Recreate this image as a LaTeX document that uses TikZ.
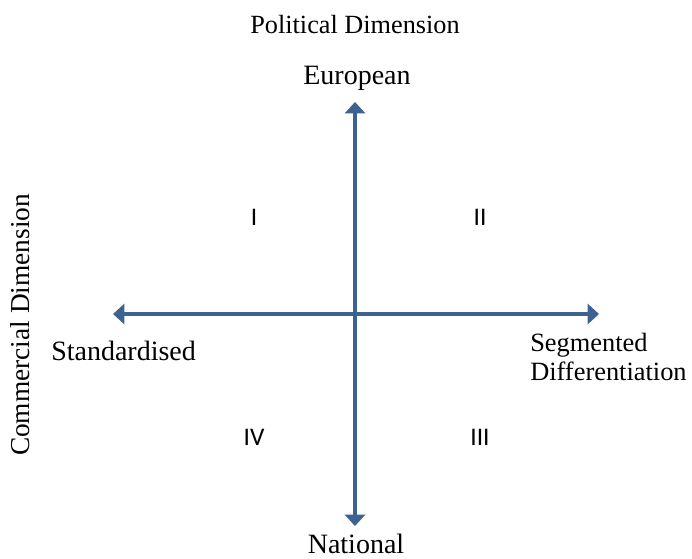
\documentclass[tikz,border=0pt]{standalone}
\usepackage{fontspec}
\setmainfont{Liberation Serif}
\newfontfamily\carl{Carlito}
\usetikzlibrary{arrows.meta}
\definecolor{axisblue}{RGB}{60,98,145}
\tikzset{
  axis/.style={draw=axisblue, line width=3.6pt, -{Triangle[width=15pt,length=8.5pt]}, shorten >=0pt},
  lbl/.style={inner sep=0pt, font=\fontsize{21}{25}\selectfont},
  seglbl/.style={inner sep=0pt, font=\fontsize{19.8}{24}\selectfont},
  ttl/.style={inner sep=0pt, font=\fontsize{19.7}{23}\selectfont},
  quad/.style={inner sep=0pt, font=\carl\fontsize{19}{22}\selectfont},
}
\begin{document}
\begin{tikzpicture}[x=0.75pt,y=-0.75pt]
\useasboundingbox (0,0) rectangle (692,558);
\coordinate (c) at (355,314);
\coordinate (top) at (355,102);
\coordinate (bot) at (355,526);
\coordinate (left) at (113,314);
\coordinate (right) at (599,314);
\draw[axis] (c) -- (top);
\draw[axis] (c) -- (bot);
\draw[axis] (c) -- (left);
\draw[axis] (c) -- (right);
\node[ttl, anchor=base] (title) at (355,33) {Political Dimension};
\node[lbl, anchor=base] (eu) at (357,84) {European};
\node[lbl, anchor=base] (nat) at (356,553) {National};
\node[lbl, anchor=base west] (std) at (51,360) {Standardised};
\node[seglbl, anchor=base west] (seg) at (530,351) {Segmented};
\node[seglbl, anchor=base west] (dif) at (530,380) {Differentiation};
\node[ttl, anchor=base, rotate=90, font=\fontsize{20.5}{24}\selectfont] (com) at (29,325) {Commercial Dimension};
\node[quad] (q1) at (254,217) {I};
\node[quad] (q2) at (480,217) {II};
\node[quad] (q3) at (480,437) {III};
\node[quad] (q4) at (254,437) {IV};
\end{tikzpicture}
\end{document}
